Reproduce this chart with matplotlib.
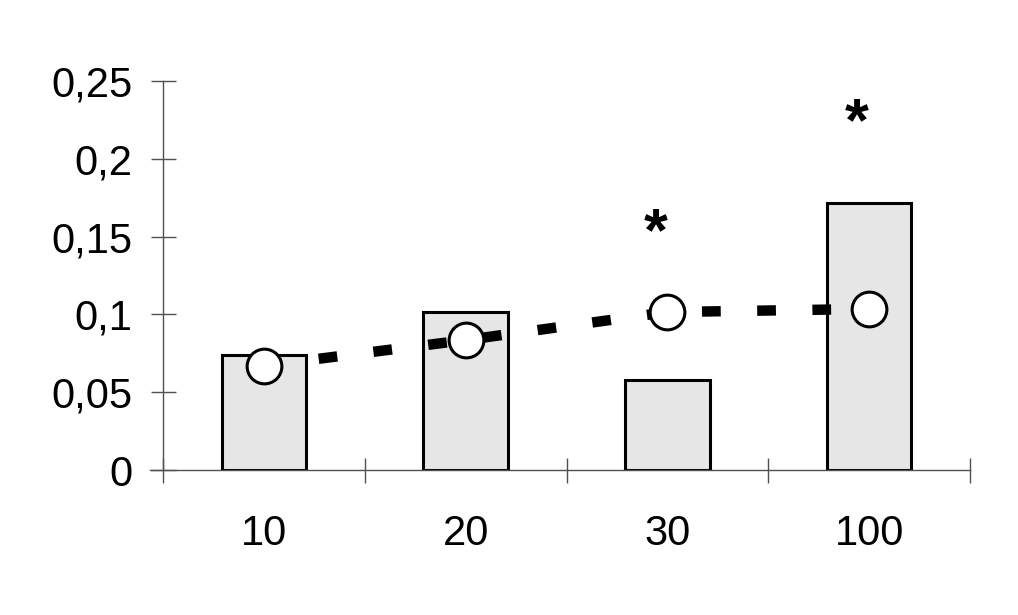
import matplotlib.pyplot as plt

plt.rcParams['font.family'] = ['Liberation Sans', 'DejaVu Sans']

categories = ['10', '20', '30', '100']
bar_vals = [0.074, 0.1015, 0.058, 0.1715]
line_vals = [0.067, 0.0835, 0.1015, 0.1035]
star_levels = [None, None, 0.1415, 0.212]

fig = plt.figure(figsize=(10.18, 6.15), dpi=100)
ax = fig.add_axes([150 / 1018, 1 - 470 / 615, 820 / 1018, 389 / 615])

x = list(range(len(categories)))
ax.bar(x, bar_vals, width=0.42, color='#e6e6e6', edgecolor='black', linewidth=2.2, zorder=2)
ax.plot(x, line_vals, color='black', linewidth=7.5, linestyle=(0, (1.8, 3.5)),
        dash_capstyle='butt', zorder=3)
ax.plot(x, line_vals, linestyle='none', marker='o', markersize=25,
        markerfacecolor='white', markeredgecolor='black', markeredgewidth=2.2, zorder=4)

# significance marks
for xi, lvl in zip(x, star_levels):
    if lvl is not None:
        ax.text(xi - 0.06, lvl, '*', ha='center', va='baseline',
                fontsize=44, fontweight='bold', zorder=5)

ax.set_xlim(-0.5 - 13 / 201.75, len(categories) - 0.5)
ax.set_ylim(0, 0.25)

for s in ['top', 'right']:
    ax.spines[s].set_visible(False)
for s in ['left', 'bottom']:
    ax.spines[s].set_color('#505050')
    ax.spines[s].set_linewidth(1.0)
ax.spines['left'].set_position(('data', -0.5))

ax.set_yticks([0, 0.05, 0.1, 0.15, 0.2, 0.25])
ax.set_yticklabels(['0', '0,05', '0,1', '0,15', '0,2', '0,25'])
ax.tick_params(axis='y', direction='inout', length=18, width=1.0, color='#505050',
               labelsize=30, pad=13)

ax.set_xticks(x)
ax.set_xticklabels(categories)
ax.tick_params(axis='x', which='major', length=0, labelsize=30, pad=32)
ax.set_xticks([i - 0.5 for i in range(len(categories) + 1)], minor=True)
ax.tick_params(axis='x', which='minor', direction='inout', length=18, width=1.0,
               color='#505050')

fig.savefig('out.png', dpi=100)
